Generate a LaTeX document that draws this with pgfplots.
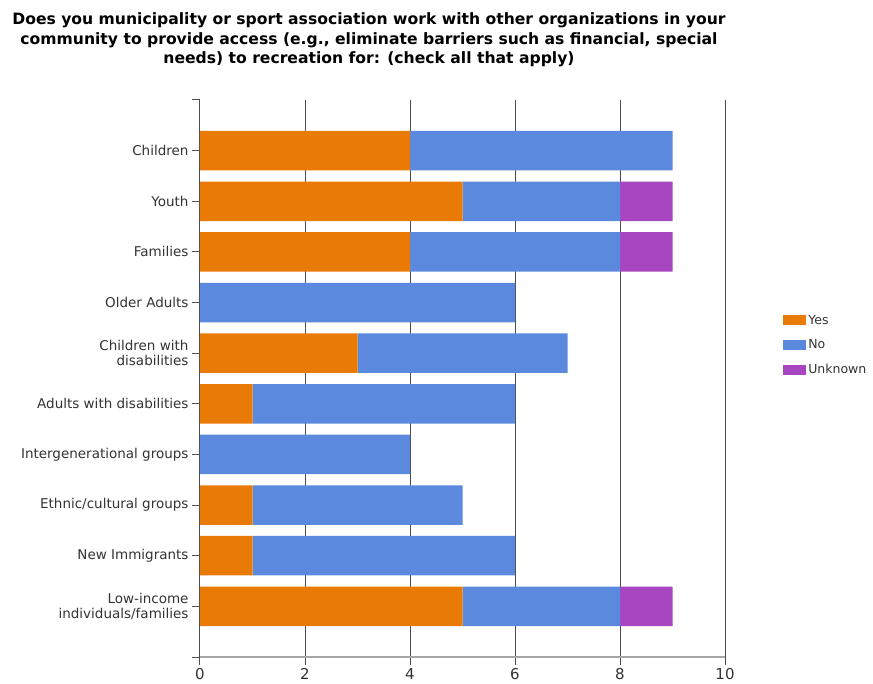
\documentclass[border=0pt]{standalone}
\usepackage{fontspec}
\setmainfont{DejaVu Sans}
\usepackage{pgfplots}
\pgfplotsset{compat=1.18}
\definecolor{cyes}{HTML}{EA7A06}
\definecolor{cno}{HTML}{5A89DE}
\definecolor{cunk}{HTML}{A846C2}
\definecolor{txt}{HTML}{333333}
\begin{document}
\begin{tikzpicture}
\useasboundingbox (0pt,0pt) rectangle (873pt,683pt);
\node[align=center, font=\fontsize{15.6}{19.5}\selectfont\bfseries, text=black] at (369pt,643pt)
  {Does you municipality or sport association work with other organizations in your\\
   community to provide access (e.g., eliminate barriers such as financial, special\\
   needs) to recreation for: (check all that apply)};
\begin{axis}[
  at={(200pt,26pt)}, anchor=south west,
  scale only axis, width=525pt, height=557pt,
  xbar stacked, bar width=0.78,
  xmin=0, xmax=10, ymin=0, ymax=11,
  xtick={0,2,4,6,8,10},
  ytick={1,2,3,4,5,6,7,8,9,10},
  extra y ticks={0,11}, extra y tick labels={},
  yticklabels={{Low-income\\individuals/families},{New Immigrants},{Ethnic/cultural groups},{Intergenerational groups},{Adults with disabilities},{Children with\\disabilities},{Older Adults},{Families},{Youth},{Children}},
  yticklabel style={align=right, font=\fontsize{13.5}{15}\selectfont, text=txt},
  xticklabel style={font=\fontsize{15}{17}\selectfont, text=txt},
  /pgf/number format/assume math mode=true,
  axis lines*=left,
  x axis line style={black!35, line width=2.2pt},
  y axis line style={black!70, line width=1pt},
  tick align=outside,
  major tick length=8pt,
  every tick/.style={black!70, line width=1pt},
  xmajorgrids,
  major grid style={black!70, line width=1pt},
  legend style={at={(1.105,0.56)}, anchor=west, draw=none, fill=none,
    font=\fontsize{12.5}{14}\selectfont, text=txt, row sep=10pt},
  legend cell align=left,
  legend image code/.code={\fill[#1] (0pt,-5pt) rectangle (23pt,5pt);},
]
\addplot[draw=none, fill=cyes] coordinates {
 (5,1) (1,2) (1,3) (0,4) (1,5) (3,6) (0,7) (4,8) (5,9) (4,10)};
\addlegendentry{Yes}
\addplot[draw=none, fill=cno] coordinates {
 (3,1) (5,2) (4,3) (4,4) (5,5) (4,6) (6,7) (4,8) (3,9) (5,10)};
\addlegendentry{No}
\addplot[draw=none, fill=cunk] coordinates {
 (1,1) (0,2) (0,3) (0,4) (0,5) (0,6) (0,7) (1,8) (1,9) (0,10)};
\addlegendentry{Unknown}
\end{axis}
\end{tikzpicture}
\end{document}
